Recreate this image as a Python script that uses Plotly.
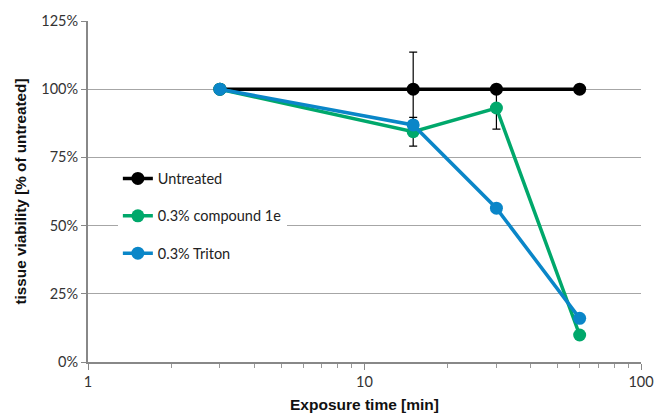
import plotly.graph_objects as go

time_min = [3, 15, 30, 60]
untreated = [100, 100, 100, 100]
untreated_err = [0, 13.6, 0, 0]
compound = [100, 84.4, 93.1, 9.9]
compound_err = [0, 5.3, 7.7, 0]
triton = [100, 86.9, 56.4, 16.0]
triton_err = [0, 0, 0, 0]

series = [
    ("Untreated", untreated, untreated_err, "#000000"),
    ("0.3% compound 1e", compound, compound_err, "#00A86B"),
    ("0.3% Triton", triton, triton_err, "#0A86C8"),
]

fig = go.Figure()
for i, (name, vals, err, col) in enumerate(series):
    fig.add_trace(go.Scatter(
        x=time_min, y=vals, name=name, mode="lines+markers",
        legendgroup=f"g{i}",
        line=dict(color=col, width=3.5),
        marker=dict(color=col, size=13),
        error_y=dict(type="data", array=err, visible=True, color="black",
                     thickness=1.2, width=4),
    ))

fig.update_layout(
    width=655, height=414,
    margin=dict(l=88, r=14, t=21, b=52, autoexpand=False),
    paper_bgcolor="white", plot_bgcolor="white",
    showlegend=True,
    legend=dict(x=0.054, y=0.585, xanchor="left", yanchor="top",
                bgcolor="white", tracegroupgap=15.5,
                font=dict(family="Lato, Open Sans, sans-serif", size=14.5, color="#222"),
                itemwidth=30),
    font=dict(family="Liberation Sans, Arial, sans-serif", color="#222"),
)
fig.update_xaxes(
    type="log", range=[0, 2], automargin=False,
    tickvals=[1, 10, 100], ticktext=["1", "10", "100"],
    ticks="outside", ticklen=6, tickcolor="#888",
    showline=True, linecolor="#888", linewidth=2,
    showgrid=False, zeroline=False,
    tickfont=dict(family="Lato, Open Sans, sans-serif", size=14.5, color="#333"),
    minor=dict(ticks="outside", ticklen=4, tickcolor="#999", dtick="D1", showgrid=False),
    title=dict(text="<b>Exposure time [min]</b>", font=dict(size=15.5, color="#111"), standoff=10),
)
fig.update_yaxes(
    range=[0, 125], automargin=False, tickvals=[0, 25, 50, 75, 100, 125],
    ticktext=["0%", "25%", "50%", "75%", "100%", "125%"],
    ticks="outside", ticklen=5, tickcolor="#888",
    showline=True, linecolor="#888", linewidth=2,
    showgrid=True, gridcolor="#A6A6A6", gridwidth=1, zeroline=False,
    tickfont=dict(family="Lato, Open Sans, sans-serif", size=14.5, color="#333"),
    title=dict(text="<b>tissue viability [% of untreated]</b>", font=dict(size=15.3, color="#111"), standoff=11),
)

fig.write_html("out.html", config={"displayModeBar": False})
with open("out.html", encoding="utf-8") as f:
    html = f.read()
html = html.replace("<head>", "<head><style>html,body{margin:0;padding:0;overflow:hidden;}</style>", 1)
with open("out.html", "w", encoding="utf-8") as f:
    f.write(html)
